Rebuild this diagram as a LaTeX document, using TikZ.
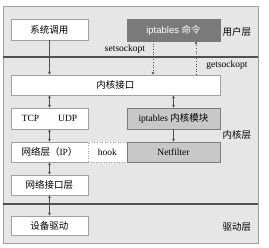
\documentclass[tikz,border=0pt]{standalone}
\usepackage{fontspec}
\setmainfont{Liberation Serif}
\newfontfamily\cjk{Noto Sans CJK SC}
\newfontfamily\lsans{Liberation Sans}
\usetikzlibrary{arrows.meta}
\definecolor{bgc}{HTML}{E6E6E6}
\definecolor{darkbox}{HTML}{7A7A7A}
\definecolor{midbox}{HTML}{C8C8C8}
\definecolor{sepc}{HTML}{505050}
\definecolor{framec}{HTML}{A0A0A0}
\begin{document}
\begin{tikzpicture}[x=1pt,y=-1pt,
  box/.style={draw=framec,fill=white,line width=0.6pt,inner sep=0pt,font=\fontsize{9.5}{10}\selectfont},
  graybox/.style={box,fill=midbox,draw=darkbox},
  arr/.style={draw=sepc,line width=0.6pt,-{Stealth[length=3pt,width=3pt]}},
  darr/.style={draw=sepc,line width=0.6pt,{Stealth[length=3pt,width=3pt]}-{Stealth[length=3pt,width=3pt]}},
  dotarr/.style={arr,dotted},
  lbl/.style={inner sep=0pt,font=\fontsize{9.5}{10}\selectfont}]
\useasboundingbox (0,0) rectangle (269,248);
\fill[white] (0,0) rectangle (269,248);
\draw[framec,fill=bgc,line width=0.6pt] (3,6) rectangle (258,243);
\draw[sepc,line width=1.2pt] (3,57) -- (258,57);
\draw[sepc,line width=1.2pt] (3,204) -- (258,204);

\node[box,minimum width=77pt,minimum height=21pt] (sys) at (49.5,29.5) {\cjk 系统调用};
\node[box,fill=darkbox,draw=darkbox,text=white,minimum width=93pt,minimum height=22pt] (iptcmd) at (173.5,30) {\lsans iptables \cjk 命令};
\node[box,minimum width=209pt,minimum height=20pt] (kif) at (115.5,85) {\cjk 内核接口};
\node[box,minimum width=77pt,minimum height=21pt] (tcp) at (49.5,118.5) {TCP\hspace{19pt}UDP};
\node[graybox,minimum width=93pt,minimum height=21pt] (iptmod) at (173.5,118.5) {iptables {\cjk 内核模块}};
\node[box,minimum width=77pt,minimum height=20pt] (net) at (49.5,152) {{\cjk 网络层（}IP{\cjk ）}};
\node[box,dotted,minimum width=39pt,minimum height=20pt] (hook) at (107.5,152) {hook};
\node[graybox,minimum width=93pt,minimum height=20pt] (nf) at (173.5,152) {Netfilter};
\node[box,minimum width=77pt,minimum height=20pt] (nif) at (49.5,185) {\cjk 网络接口层};
\node[box,minimum width=77pt,minimum height=19pt] (dev) at (49.5,225.5) {\cjk 设备驱动};

\node[lbl] (ul) at (237,32) {\cjk 用户层};
\node[lbl] (kl) at (237,135) {\cjk 内核层};
\node[lbl] (dl) at (237,227) {\cjk 驱动层};
\node[lbl] (setl) at (125,49) {setsockopt};
\node[lbl] (getl) at (227,65) {getsockopt};

\draw[arr] (sys.south) -- (sys.south |- kif.north);
\draw[dotarr] ([xshift=-20.5pt]iptcmd.south) -- ([xshift=-20.5pt]iptcmd.south |- kif.north);
\draw[dotarr] ([xshift=22.5pt]iptcmd.south |- kif.north) -- ([xshift=22.5pt]iptcmd.south);
\draw[darr] (tcp.north |- kif.south) -- (tcp.north);
\draw[darr] (iptmod.north |- kif.south) -- (iptmod.north);
\draw[arr] (iptmod.south) -- (nf.north);
\draw[darr] (tcp.south) -- (net.north);
\draw[darr] (net.south) -- (nif.north);
\draw[darr] (nif.south) -- (dev.north);
\end{tikzpicture}
\end{document}
